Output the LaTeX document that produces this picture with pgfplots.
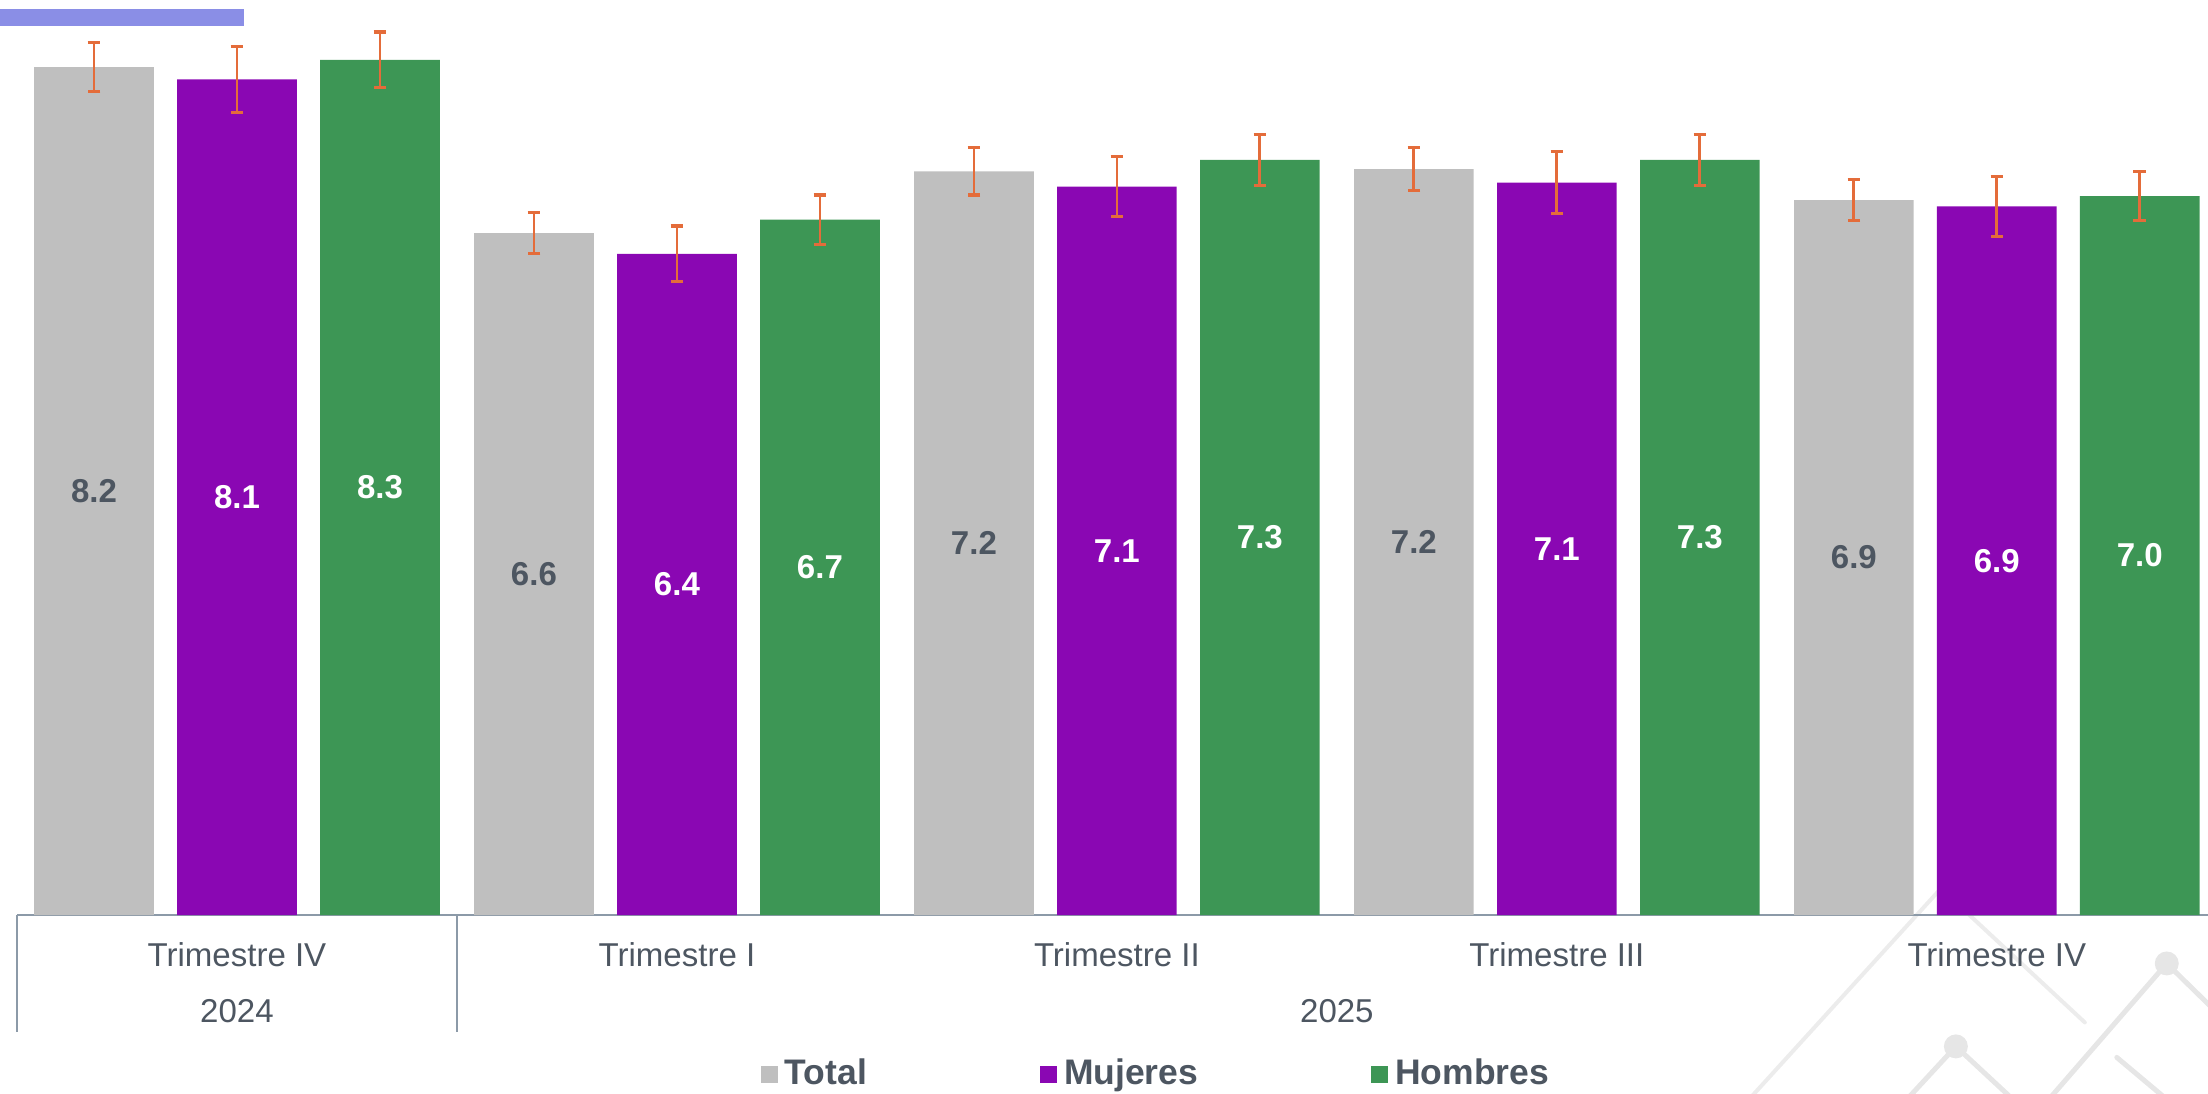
\documentclass[border=0pt]{standalone}
\usepackage{pgfplots}
\pgfplotsset{compat=1.18}
\usepackage{fontspec}
\setmainfont{Liberation Sans}

\definecolor{cTotal}{HTML}{BFBFBF}
\definecolor{cMuj}{HTML}{8A07B3}
\definecolor{cHom}{HTML}{3D9655}
\definecolor{cErr}{HTML}{E46C3A}
\definecolor{cTxt}{HTML}{4D5661}
\definecolor{cAxis}{HTML}{8C9AA8}
\definecolor{cDeco}{HTML}{8A8EE6}
\definecolor{cWm}{HTML}{E6E6E6}

\pgfplotsset{
  sq legend/.style={legend image code/.code={\fill[##1] (0cm,-0.085cm) rectangle (0.17cm,0.085cm);}},
  errs/.style={error bars/.cd, y dir=both, y explicit, error mark=-,
    error bar style={cErr, line width=0.8pt},
    error mark options={cErr, rotate=90, line width=0.9pt, mark size=1.8pt},
    /pgfplots/.cd},
}

\begin{document}
\begin{tikzpicture}
% decoration (pixel coordinates, origin top left)
\begin{scope}[x=0.01cm,y=-0.01cm]
  \fill[cDeco] (0,9) rectangle (244,26);
  \draw[cWm!75, line width=0.04cm, line cap=round] (1750,1100) -- (1942,889) -- (2086,1023);
  \draw[cWm, line width=0.05cm, line cap=round] (1908,1100) -- (1957,1047) -- (2014,1100);
  \draw[cWm, line width=0.05cm, line cap=round] (2050,1100) -- (2168,964) -- (2215,1010);
  \draw[cWm, line width=0.05cm, line cap=round] (2118,1058) -- (2168,1100);
  \fill[cWm] (1957,1047) circle (12);
  \fill[cWm] (2168,964) circle (12);
\end{scope}

\begin{axis}[
  at={(0.17cm,-9.15cm)}, anchor=south west,
  scale only axis, width=21.91cm, height=9.15cm,
  xmin=-0.5, xmax=4.48, ymin=0, ymax=8.87,
  axis x line=bottom, axis y line=none,
  x axis line style={-, cAxis, line width=0.6pt},
  xtick={0,1,2,3,4},
  xticklabels={Trimestre IV, Trimestre I, Trimestre II, Trimestre III, Trimestre IV},
  major tick length=0pt,
  xticklabel style={anchor=center, yshift=-0.40cm, font=\fontsize{9.4}{11}\selectfont, text=cTxt},
  ytick=\empty,
  clip=false,
  ybar, bar width=0.272,
  nodes near coords,
  /pgf/number format/.cd, fixed, fixed zerofill, precision=1, assume math mode=true,
  /pgfplots/.cd,
  visualization depends on=y \as \rawy,
  every node near coord/.append style={anchor=center,
    shift={(axis direction cs:0,-\rawy/2)},
    font=\fontsize{9.4}{11}\selectfont\bfseries},
  legend style={at={(0.521,-0.174)}, anchor=center, draw=none, fill=none,
    legend columns=3, font=\fontsize{10.1}{12}\selectfont\bfseries, text=cTxt,
    /tikz/every even column/.append style={column sep=1.66cm}},
]
\addplot[fill=cTotal, draw=none, bar shift=-0.325, errs, sq legend,
  nodes near coords style={text=cTxt}] coordinates {
  (0,8.22) +- (0,0.24) (1,6.61) +- (0,0.20) (2,7.21) +- (0,0.23)
  (3,7.23) +- (0,0.21) (4,6.93) +- (0,0.20)};
\addlegendentry{Total}
\addplot[fill=cMuj, draw=none, bar shift=0, errs, sq legend,
  nodes near coords style={text=white}] coordinates {
  (0,8.10) +- (0,0.32) (1,6.41) +- (0,0.27) (2,7.06) +- (0,0.29)
  (3,7.10) +- (0,0.30) (4,6.87) +- (0,0.29)};
\addlegendentry{Mujeres}
\addplot[fill=cHom, draw=none, bar shift=0.325, errs, sq legend,
  nodes near coords style={text=white}] coordinates {
  (0,8.29) +- (0,0.27) (1,6.74) +- (0,0.24) (2,7.32) +- (0,0.25)
  (3,7.32) +- (0,0.25) (4,6.97) +- (0,0.24)};
\addlegendentry{Hombres}

\node[text=cTxt, font=\fontsize{9.4}{11}\selectfont, yshift=-0.96cm] at (axis cs:0,0) {2024};
\node[text=cTxt, font=\fontsize{9.4}{11}\selectfont, yshift=-0.96cm] at (axis cs:2.5,0) {2025};
\draw[cAxis, line width=0.5pt] (axis cs:-0.5,0) -- ([yshift=-1.17cm]axis cs:-0.5,0);
\draw[cAxis, line width=0.5pt] (axis cs:0.5,0) -- ([yshift=-1.17cm]axis cs:0.5,0);
\end{axis}

\pgfresetboundingbox
\path[use as bounding box] (0,0) rectangle (22.08cm,-10.94cm);
\end{tikzpicture}
\end{document}
